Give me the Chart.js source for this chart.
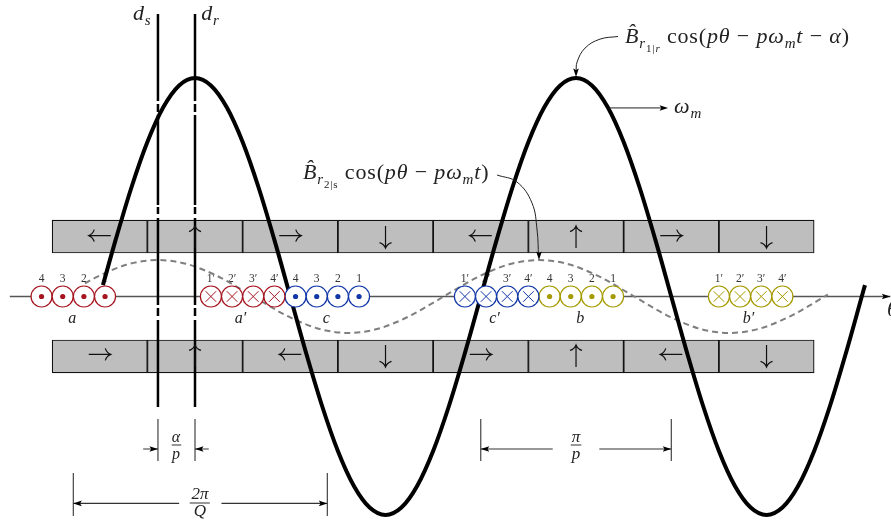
<!DOCTYPE html>
<html>
<head>
<meta charset="utf-8">
<script src="https://cdn.jsdelivr.net/npm/chart.js@4"></script>
<style>
  html, body { margin: 0; padding: 0; background: #fff; overflow: hidden; }
  canvas { display: block; }
</style>
</head>
<body>
<canvas id="chart" width="891" height="521"></canvas>
<script>
// x is electrical angle in degrees (0 on the d_r axis), y is flux density with the rotor peak as 1

// rotor field, thick curve
const rotorAngles = [-87, -75, -60, -45, -30, -15, 0, 15, 30, 45, 60, 75, 90, 105, 120, 135, 150, 165, 180, 195, 210, 225, 240, 255, 270, 285, 300, 315, 330, 345, 360, 375, 390, 405, 420, 435, 450, 465, 480, 495, 510, 525, 540, 555, 570, 585, 600, 615, 630, 633];
const rotorField = [0.052, 0.259, 0.5, 0.707, 0.866, 0.966, 1, 0.966, 0.866, 0.707, 0.5, 0.259, 0, -0.259, -0.5, -0.707, -0.866, -0.966, -1, -0.966, -0.866, -0.707, -0.5, -0.259, 0, 0.259, 0.5, 0.707, 0.866, 0.966, 1, 0.966, 0.866, 0.707, 0.5, 0.259, 0, -0.259, -0.5, -0.707, -0.866, -0.966, -1, -0.966, -0.866, -0.707, -0.5, -0.259, 0, 0.052];

// stator field, dashed curve
const statorAngles = [-104, -95, -80, -65, -50, -35, -20, -5, 10, 25, 40, 55, 70, 85, 100, 115, 130, 145, 160, 175, 190, 205, 220, 235, 250, 265, 280, 295, 310, 325, 340, 355, 370, 385, 400, 415, 430, 445, 460, 475, 490, 505, 520, 535, 550, 565, 580, 595, 598];
const statorField = [0.06, 0.084, 0.118, 0.145, 0.161, 0.167, 0.161, 0.145, 0.118, 0.084, 0.043, 0, -0.043, -0.084, -0.118, -0.145, -0.161, -0.167, -0.161, -0.145, -0.118, -0.084, -0.043, 0, 0.043, 0.084, 0.118, 0.145, 0.161, 0.167, 0.161, 0.145, 0.118, 0.084, 0.043, 0, -0.043, -0.084, -0.118, -0.145, -0.161, -0.167, -0.161, -0.145, -0.118, -0.084, -0.043, 0, 0.009];

// iron blocks and their flux arrows
const blockCenters = [-90, 0, 90, 180, 270, 360, 450, 540];
const upperBlock = [0.199, 0.35];
const lowerBlock = [-0.35, -0.199];
const upperArrows = ['left', 'up', 'right', 'down', 'left', 'up', 'right', 'down'];
const lowerArrows = ['right', 'up', 'left', 'down', 'right', 'up', 'left', 'down'];

// coil sides
const slotsA = [-145, -125, -105, -85];
const slotsAp = [15, 35, 55, 75];
const slotsC = [95, 115, 135, 155];
const slotsCp = [255, 275, 295, 315];
const slotsB = [335, 355, 375, 395];
const slotsBp = [495, 515, 535, 555];
const labelsOut = ['4', '3', '2', '1'];
const labelsIn = ['1′', '2′', '3′', '4′'];

// d axes, null leaves the gaps of the dash-dot pattern
const axisDs = [-35, -35, -35, -35, -35, -35, -35, -35, -35, -35, -35, -35, -35, -35, -35, -35, -35, -35, -35];
const axisDr = [0, 0, 0, 0, 0, 0, 0, 0, 0, 0, 0, 0, 0, 0, 0, 0, 0, 0, 0];
const axisLevels = [1.293, 0.895, null, 0.881, 0.844, null, 0.831, 0.419, null, 0.41, 0.378, null, 0.359, -0.039, null, -0.053, -0.089, null, -0.108];
const axisEnd = -0.506;

// dimension lines
const dimAngles = [-35, -35, null, 0, 0, null, -49, -35, null, 13, 0, null, -115, -115, null, 125, 125, null, -115, -15, null, 25, 125, null, 270, 270, null, 450, 450, null, 270, 338, null, 382, 450, null, -22, -13, null, -5, 14, null, 355, 365];
const dimLevels = [-0.561, -0.753, null, -0.561, -0.753, null, -0.698, -0.698, null, -0.698, -0.698, null, -0.808, -1.005, null, -0.808, -1.005, null, -0.947, -0.947, null, -0.947, -0.947, null, -0.561, -0.753, null, -0.561, -0.753, null, -0.698, -0.698, null, -0.698, -0.698, null, -0.68, -0.68, null, -0.945, -0.945, null, -0.68, -0.68];

// leader lines
const leaderR2Angles = [285.4, 304.2, 318.4, 323.2, 324.6];
const leaderR2Levels = [0.556, 0.524, 0.428, 0.304, 0.181];
const leaderR1Angles = [360, 361, 368.5, 382.7, 399.7];
const leaderR1Levels = [1.027, 1.073, 1.137, 1.178, 1.19];
const leaderWAngles = [391, 443];
const leaderWLevels = [0.863, 0.863];

const RED = '#A5141F', BLUE = '#1238A8', OLIVE = '#A59A00';
const SERIF = '"Liberation Serif"';

function zip(xs, ys) {
  return xs.map((x, i) => ({ x: x, y: ys[i] }));
}

function thinLine(data, color, width, order, tension) {
  return { type: 'line', data: data, borderColor: color, borderWidth: width, pointRadius: 0, tension: tension || 0, order: order, fill: false };
}

function blockSet(values) {
  return {
    type: 'bar',
    data: blockCenters.map(c => ({ x: c, y: values })),
    backgroundColor: '#BEBEBE',
    borderColor: '#111',
    borderWidth: 1.2,
    borderSkipped: false,
    barThickness: 95.25,
    grouped: false,
    order: 20
  };
}

function coilSet(slots, color, kind) {
  const pts = slots.map(s => ({ x: s, y: 0 }));
  const ring = { type: 'line', showLine: false, data: pts, pointStyle: 'circle', pointRadius: 10.5, pointBackgroundColor: '#fff', pointBorderColor: color, pointBorderWidth: 1.2, order: 2 };
  const mark = kind === 'dot'
    ? { type: 'line', showLine: false, data: pts, pointStyle: 'circle', pointRadius: 2.6, pointBackgroundColor: color, pointBorderColor: color, pointBorderWidth: 0, order: 1 }
    : { type: 'line', showLine: false, data: pts, pointStyle: 'crossRot', pointRadius: 7.5, pointBorderColor: color, pointBorderWidth: 1, order: 1 };
  return [ring, mark];
}

const axisDsData = zip(axisDs, axisLevels).concat([{ x: -35, y: axisEnd }]);
const axisDrData = zip(axisDr, axisLevels).concat([{ x: 0, y: axisEnd }]);

// filled heads of dimension lines, leaders and the theta axis: [angle, level, direction in degrees]
const filledHeads = [
  [-35, -0.698, 0], [0, -0.698, 180],
  [-115, -0.947, 180], [125, -0.947, 0],
  [270, -0.698, 180], [450, -0.698, 0],
  [325, 0.167, 90], [360, 1.005, 90], [447, 0.863, 0], [657, 0, 0]
];

const slotLabels = [
  [slotsA, labelsOut], [slotsAp, labelsIn], [slotsC, labelsOut],
  [slotsCp, labelsIn], [slotsB, labelsOut], [slotsBp, labelsIn]
];
const groupNames = [
  ['a', -116], ['a′', 43], ['c', 124], ['c′', 283], ['b', 364], ['b′', 523]
];
const fractions = [
  ['α', -18, -0.666, 16], ['p', -18, -0.744, 16],
  ['2π', 4.7, -0.925, 17], ['Q', 4.7, -1.005, 17],
  ['π', 360, -0.666, 17], ['p', 360, -0.744, 17]
];
const formulaR1 = [['B̂', 'i'], ['r', 'sub'], ['1|', 'ssr'], ['r', 'ss'], [' cos(', 'r'], ['pθ', 'i'], [' − ', 'r'], ['pω', 'i'], ['m', 'sub'], ['t', 'i'], [' − ', 'r'], ['α', 'i'], [')', 'r']];
const formulaR2 = [['B̂', 'i'], ['r', 'sub'], ['2|s', 'ssr'], [' cos(', 'r'], ['pθ', 'i'], [' − ', 'r'], ['pω', 'i'], ['m', 'sub'], ['t', 'i'], [')', 'r']];

const runStyles = {
  i: { font: 'italic 22px ' + SERIF, dy: 0 },
  r: { font: '22px ' + SERIF, dy: 0 },
  sub: { font: 'italic 15px ' + SERIF, dy: 5 },
  ss: { font: 'italic 11px ' + SERIF, dy: 9 },
  ssr: { font: '11px ' + SERIF, dy: 9 }
};

function drawRuns(ctx, runs, x, y) {
  ctx.textAlign = 'left';
  ctx.textBaseline = 'alphabetic';
  ctx.letterSpacing = '0.85px';
  runs.forEach(r => {
    const st = runStyles[r[1]];
    ctx.font = st.font;
    ctx.fillText(r[0], x, y + st.dy);
    x += ctx.measureText(r[0]).width;
  });
  ctx.letterSpacing = '0px';
}

function blockArrow(ctx, x, y, dir) {
  const angle = { right: 0, down: 90, left: 180, up: 270 }[dir];
  ctx.save();
  ctx.translate(x, dir === 'left' || dir === 'right' ? y - 1.5 : y);
  ctx.rotate(angle * Math.PI / 180);
  ctx.strokeStyle = '#111';
  ctx.lineWidth = 1.2;
  ctx.beginPath();
  ctx.moveTo(-11, 0);
  ctx.lineTo(11, 0);
  ctx.moveTo(5.5, -6);
  ctx.quadraticCurveTo(7, -1.5, 11, 0);
  ctx.quadraticCurveTo(7, 1.5, 5.5, 6);
  ctx.stroke();
  ctx.restore();
}

function filledHead(ctx, x, y, deg) {
  ctx.save();
  ctx.translate(x, y);
  ctx.rotate(deg * Math.PI / 180);
  ctx.fillStyle = '#000';
  ctx.beginPath();
  ctx.moveTo(0, 0);
  ctx.lineTo(-8.5, -2.8);
  ctx.lineTo(-6.8, 0);
  ctx.lineTo(-8.5, 2.8);
  ctx.closePath();
  ctx.fill();
  ctx.restore();
}

// small winding numbers go under the curves, as in the drawing
const underLabels = {
  id: 'underLabels',
  beforeDatasetsDraw(chart) {
    const ctx = chart.ctx, sx = chart.scales.x, sy = chart.scales.y;
    ctx.save();
    ctx.fillStyle = '#333';
    ctx.font = '11.5px ' + SERIF;
    ctx.textAlign = 'center';
    ctx.textBaseline = 'alphabetic';
    slotLabels.forEach(group => {
      group[0].forEach((s, i) => ctx.fillText(group[1][i], sx.getPixelForValue(s), sy.getPixelForValue(0.066)));
    });
    ctx.restore();
  }
};

const overLabels = {
  id: 'overLabels',
  afterDatasetsDraw(chart) {
    const ctx = chart.ctx, sx = chart.scales.x, sy = chart.scales.y;
    const X = v => sx.getPixelForValue(v), Y = v => sy.getPixelForValue(v);
    ctx.save();
    blockCenters.forEach((c, i) => {
      blockArrow(ctx, X(c), Y(0.272), upperArrows[i]);
      blockArrow(ctx, X(c), Y(-0.272), lowerArrows[i]);
    });
    filledHeads.forEach(h => filledHead(ctx, X(h[0]), Y(h[1]), h[2]));

    ctx.fillStyle = '#222';
    ctx.textAlign = 'center';
    ctx.textBaseline = 'alphabetic';
    ctx.font = 'italic 16px ' + SERIF;
    groupNames.forEach(g => ctx.fillText(g[0], X(g[1]), Y(-0.121)));
    fractions.forEach(f => {
      ctx.font = 'italic ' + f[3] + 'px ' + SERIF;
      ctx.fillText(f[0], X(f[1]), Y(f[2]));
    });

    drawRuns(ctx, formulaR1, X(406.3), Y(1.16));
    drawRuns(ctx, formulaR2, X(102), Y(0.538));
    drawRuns(ctx, [['ω', 'i'], ['m', 'sub']], X(452.6), Y(0.84));
    drawRuns(ctx, [['d', 'i'], ['s', 'sub']], X(-58.6), Y(1.265));
    drawRuns(ctx, [['d', 'i'], ['r', 'sub']], X(5.9), Y(1.265));
    drawRuns(ctx, [['θ', 'i']], X(653.9), Y(-0.089));
    ctx.restore();
  }
};

new Chart(document.getElementById('chart'), {
  type: 'bar',
  data: {
    datasets: [
      blockSet(upperBlock),
      blockSet(lowerBlock),
      thinLine(zip([-175, 657], [0, 0]), '#555', 1.5, 15),
      Object.assign(thinLine(zip(statorAngles, statorField), '#7F7F7F', 2, 12, 0.33), { borderDash: [6, 4] }),
      Object.assign(thinLine(axisDsData, '#000', 2.5, 11), { spanGaps: false }),
      Object.assign(thinLine(axisDrData, '#000', 2.5, 11), { spanGaps: false }),
      thinLine(zip(rotorAngles, rotorField), '#000', 4, 10, 0.33),
      thinLine(zip(dimAngles, dimLevels), '#333', 1.1, 9),
      thinLine(zip(leaderR2Angles, leaderR2Levels), '#222', 1, 8, 0.4),
      thinLine(zip(leaderR1Angles, leaderR1Levels), '#222', 1, 8, 0.4),
      thinLine(zip(leaderWAngles, leaderWLevels), '#222', 1, 8),
      ...coilSet(slotsA, RED, 'dot'),
      ...coilSet(slotsAp, RED, 'cross'),
      ...coilSet(slotsC, BLUE, 'dot'),
      ...coilSet(slotsCp, BLUE, 'cross'),
      ...coilSet(slotsB, OLIVE, 'dot'),
      ...coilSet(slotsBp, OLIVE, 'cross')
    ]
  },
  options: {
    responsive: false,
    animation: false,
    layout: { padding: 0, autoPadding: false },
    plugins: { legend: { display: false }, title: { display: false }, tooltip: { enabled: false } },
    scales: {
      x: { type: 'linear', display: false, min: -184.25, max: 657.6, offset: false },
      y: { type: 'linear', display: false, min: -1.0275, max: 1.357 }
    }
  },
  plugins: [underLabels, overLabels]
});
</script>
</body>
</html>
